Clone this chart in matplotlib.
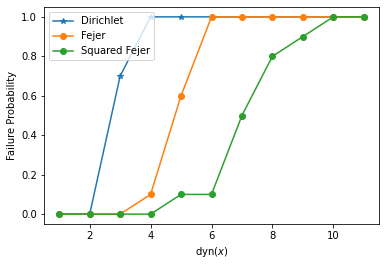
import matplotlib
matplotlib.use("Agg")
import matplotlib.pyplot as plt

dyn = [1, 2, 3, 4, 5, 6, 7, 8, 9, 10, 11]
dirichlet = [0, 0, 0.7, 1, 1, 1, 1, 1, 1, 1, 1]
fejer = [0, 0, 0, 0.1, 0.6, 1, 1, 1, 1, 1, 1]
squared_fejer = [0, 0, 0, 0, 0.1, 0.1, 0.5, 0.8, 0.9, 1, 1]

W, H = 386, 266
fig = plt.figure(figsize=(W / 72, H / 72), dpi=72)
ax = fig.add_axes([44 / W, 1 - 224 / H, (379 - 44) / W, (224 - 7) / H])

ax.plot(dyn, dirichlet, marker="*", label="Dirichlet")
ax.plot(dyn, fejer, marker="o", label="Fejer")
ax.plot(dyn, squared_fejer, marker="o", label="Squared Fejer")

ax.set_xlabel("dyn($x$)")
ax.set_ylabel("Failure Probability")
ax.legend(loc="upper left")

fig.savefig("out.png", dpi=72)
